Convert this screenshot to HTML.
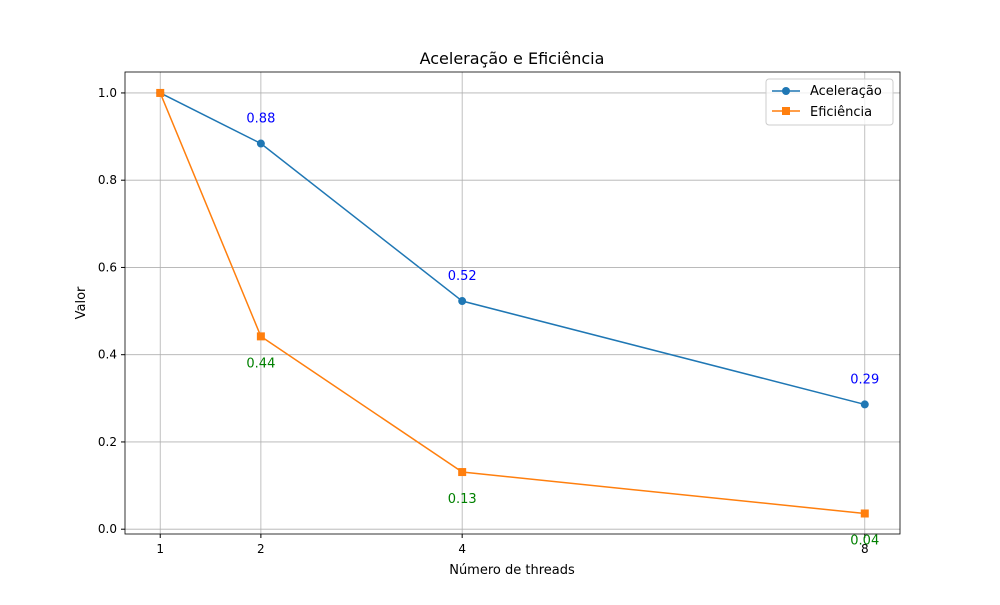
<!DOCTYPE html>
<html><head><meta charset="utf-8"><style>
body{margin:0;background:#fff;font-family:"Liberation Sans","DejaVu Sans",sans-serif}
svg text{font-family:"DejaVu Sans","Liberation Sans",sans-serif}
</style></head><body>
<svg id="chart" width="1000" height="600" xmlns="http://www.w3.org/2000/svg">
<rect width="1000" height="600" fill="#fff"/>
<g id="grid"></g>
<g id="axes"></g>
<g id="series"></g>
<g id="labels"></g>
<text x="512" y="64" text-anchor="middle" font-size="16">Aceleração e Eficiência</text>
<text x="512" y="574" text-anchor="middle" font-size="13">Número de threads</text>
<text transform="translate(85,303) rotate(-90)" text-anchor="middle" font-size="13">Valor</text>
<g>
<rect x="766" y="79" width="127" height="46" fill="#fff" fill-opacity="0.8" stroke="#ccc" rx="3"/>
<line x1="772" y1="91" x2="800" y2="91" stroke="#1f77b4" stroke-width="1.5"/>
<circle cx="786" cy="91" r="4" fill="#1f77b4"/>
<text x="810" y="95" font-size="13">Aceleração</text>
<line x1="772" y1="111" x2="800" y2="111" stroke="#ff7f0e" stroke-width="1.5"/>
<rect x="782" y="107" width="8" height="8" fill="#ff7f0e"/>
<text x="810" y="116" font-size="13">Eficiência</text>
</g>
</svg>
<script>
const threads=[1,2,4,8];
const aceleracao=[1.0,0.884,0.523,0.286];
const eficiencia=[1.0,0.442,0.131,0.036];
const yTicks=[0.0,0.2,0.4,0.6,0.8,1.0];
const yTickLabels=["0.0","0.2","0.4","0.6","0.8","1.0"];
const NS="http://www.w3.org/2000/svg";
const L=125,R=900,T=72,B=534,xmin=0.65,xmax=8.35,ymin=-0.011,ymax=1.048;
const xs=v=>L+(v-xmin)/(xmax-xmin)*(R-L);
const ys=v=>B-(v-ymin)/(ymax-ymin)*(B-T);
function mk(tag,attrs,parent){const e=document.createElementNS(NS,tag);for(const k in attrs)e.setAttribute(k,attrs[k]);document.getElementById(parent).appendChild(e);return e;}
threads.forEach(t=>{
 const g=mk('line',{x1:xs(t),x2:xs(t),y1:T,y2:B,stroke:'#b0b0b0','stroke-width':0.8},'grid');
 
 
 mk('line',{x1:xs(t),x2:xs(t),y1:B,y2:B+4,stroke:'#000'},'axes');
 const tx=mk('text',{x:xs(t),y:B+19,'text-anchor':'middle','font-size':12},'axes');tx.textContent=t;
 
 
});
yTicks.forEach((v,i)=>{
 const g=mk('line',{x1:L,x2:R,y1:ys(v),y2:ys(v),stroke:'#b0b0b0','stroke-width':0.8},'grid');
 
 
 mk('line',{x1:L-4,x2:L,y1:ys(v),y2:ys(v),stroke:'#000'},'axes');
 const tx=mk('text',{x:L-8,y:ys(v)+4,'text-anchor':'end','font-size':12},'axes');tx.textContent=yTickLabels[i];
 
 
});
const frame=mk('rect',{x:L,y:T,width:R-L,height:B-T,fill:'none',stroke:'#000','stroke-width':0.8},'axes');


function series(vals,color,marker,name){
 const pl=mk('polyline',{points:threads.map((t,i)=>xs(t)+','+ys(vals[i])).join(' '),fill:'none',stroke:color,'stroke-width':1.5},'series');
 
 
 threads.forEach((t,i)=>{
  let m;
  if(marker==='o')m=mk('circle',{cx:xs(t),cy:ys(vals[i]),r:4,fill:color},'series');
  else m=mk('rect',{x:xs(t)-4,y:ys(vals[i])-4,width:8,height:8,fill:color},'series');
  
  
 });
}
series(aceleracao,'#1f77b4','o','aceleracao');
series(eficiencia,'#ff7f0e','s','eficiencia');
threads.forEach((t,i)=>{
 if(i===0)return;
 const a=mk('text',{x:xs(t),y:ys(aceleracao[i])-21,'text-anchor':'middle','font-size':13,fill:'blue'},'labels');
 a.textContent=aceleracao[i].toFixed(2);
 
 
 const e=mk('text',{x:xs(t),y:ys(eficiencia[i])+31,'text-anchor':'middle','font-size':13,fill:'green'},'labels');
 e.textContent=eficiencia[i].toFixed(2);
 
 
});
</script>
</body></html>
